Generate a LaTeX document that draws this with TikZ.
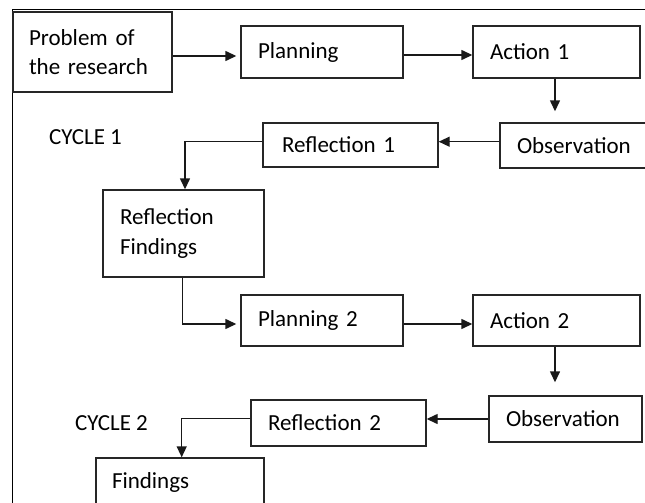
\documentclass[tikz,border=0pt]{standalone}
\usepackage{fontspec}
\setmainfont{Carlito}
\usetikzlibrary{arrows.meta}
\begin{document}
\begin{tikzpicture}[x=1pt,y=-1pt,
  box/.style={draw=black!85, line width=1.4pt, rectangle, align=left, inner ysep=0pt,
    font=\fontsize{23}{29.5}\selectfont},
  arr/.style={draw=black!90, line width=1.4pt, -{Triangle[length=11pt,width=10pt]}},
  lbl/.style={anchor=west, inner sep=0pt, font=\fontsize{23}{29.5}\selectfont}]
\useasboundingbox (0,0) rectangle (645,503);
\clip (0,0) rectangle (645,503);
\fill[white] (0,0) rectangle (645,503);
% frame
\draw[line width=1pt] (12,503) -- (12,10) -- (660,10);
% boxes
\node[box, minimum width=159pt, minimum height=80pt, text width=127pt, inner xsep=16pt] (prob) at (92.5,52) {Problem of\\the research};
\node[box, minimum width=162pt, minimum height=52pt, text width=128pt, inner xsep=17pt] (plan1) at (322,52) {Planning};
\node[box, minimum width=167pt, minimum height=52pt, text width=133pt, inner xsep=17pt] (act1) at (556.5,52) {Action 1};
\node[box, minimum width=155pt, minimum height=45pt, text width=121pt, inner xsep=17pt] (obs1) at (577.5,145.5) {Observation};
\node[box, minimum width=175pt, minimum height=44pt, text width=137pt, inner xsep=19pt] (ref1) at (350.5,145) {Reflection 1};
\node[box, minimum width=161pt, minimum height=87pt, text width=127pt, inner xsep=17pt] (rf) at (183.5,233.5) {Reflection\\Findings};
\node[box, minimum width=162pt, minimum height=51pt, text width=128pt, inner xsep=17pt] (plan2) at (322,320.5) {Planning 2};
\node[box, minimum width=167pt, minimum height=51pt, text width=133pt, inner xsep=17pt] (act2) at (556.5,320.5) {Action 2};
\node[box, minimum width=153pt, minimum height=46pt, text width=119pt, inner xsep=17pt] (obs2) at (565.5,419) {Observation};
\node[box, minimum width=175pt, minimum height=46pt, text width=141pt, inner xsep=17pt] (ref2) at (338.5,423) {Reflection 2};
\node[box, minimum width=168pt, minimum height=48pt, text width=136pt, inner xsep=16pt] (find) at (180,482) {Findings};
% labels
\node[lbl] (c1) at (49,137) {CYCLE 1};
\node[lbl] (c2) at (75,423) {CYCLE 2};
% connectors
\draw[arr, shorten >=4pt] ([yshift=-4pt]prob.east) -- ([yshift=-4pt]plan1.west);
\draw[arr] ([yshift=-3pt]plan1.east) -- ([yshift=-3pt]act1.west);
\draw[arr, shorten >=11pt] ([xshift=-1.5pt]act1.south) -- ([xshift=-1.5pt]act1.south |- obs1.north);
\draw[arr] ([yshift=3.8pt]obs1.west) coordinate (o1) -- (ref1.east |- o1);
\draw[arr] ([yshift=3.3pt]ref1.west) -| ([xshift=1.5pt]rf.north);
\draw[arr, shorten >=4pt] ([xshift=-1.2pt]rf.south) |- ([yshift=-3.5pt]plan2.west);
\draw[arr] ([yshift=-3.5pt]plan2.east) -- ([yshift=-3.5pt]act2.west);
\draw[arr, shorten >=13pt] ([xshift=-1.5pt]act2.south) -- ([xshift=-1.5pt]act2.south |- obs2.north);
\draw[arr] (obs2.west) -- (ref2.east |- obs2.west);
\draw[arr] ([yshift=4.7pt]ref2.west) -| ([xshift=1.7pt]find.north);
\end{tikzpicture}
\end{document}
